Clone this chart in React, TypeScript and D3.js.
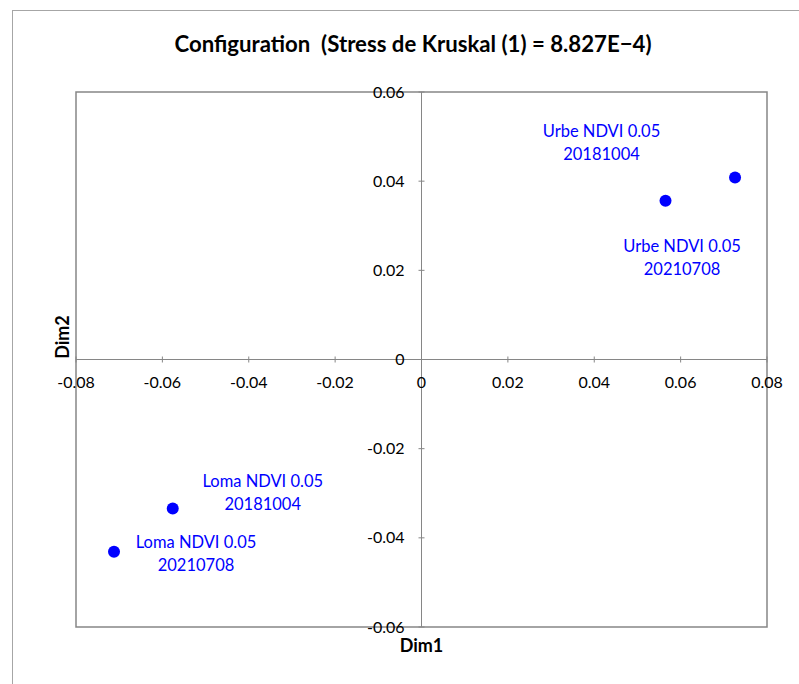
import React from 'react';
import * as d3 from 'd3';

// MDS configuration (two dimensions)
const pointNames = ['Urbe NDVI 0.05', 'Urbe NDVI 0.05', 'Loma NDVI 0.05', 'Loma NDVI 0.05'];
const pointDates = ['20181004', '20210708', '20181004', '20210708'];
const dim1 = [0.0565, 0.0726, -0.0576, -0.0712];
const dim2 = [0.0356, 0.0408, -0.0334, -0.0431];

// label placement (pixels from the point: centre x, first baseline y)
const labelDx = [-64, -53, 90, 82];
const labelDy = [-64, 74, -21, -4];

const xTicks = [-0.08, -0.06, -0.04, -0.02, 0, 0.02, 0.04, 0.06, 0.08];
const yTicks = [-0.06, -0.04, -0.02, 0, 0.02, 0.04, 0.06];

const title = 'Configuration  (Stress de Kruskal (1) = 8.827E\u22124)';

const App = () => {
  const ref = React.useRef<SVGSVGElement>(null);

  React.useEffect(() => {
    const svg = d3.select(ref.current);
    svg.selectAll('*').remove();

    const width = 799;
    const height = 684;
    const plot = { left: 76, top: 92, right: 767, bottom: 627 };
    const font = 'Lato, "Open Sans", sans-serif';
    const blue = '#0000ff';
    const grey = '#868686';

    const x = d3.scaleLinear().domain([-0.08, 0.08]).range([plot.left, plot.right]);
    const y = d3.scaleLinear().domain([-0.06, 0.06]).range([plot.bottom, plot.top]);
    const fmt = (v: number) => (Math.abs(v) < 1e-9 ? '0' : d3.format('.2f')(v).replace('\u2212', '-'));

    svg.append('rect')
      .attr('x', 0).attr('y', 0).attr('width', width).attr('height', height)
      .attr('fill', '#fff');

    // chart area border (runs past the window on the right and bottom)
    svg.append('rect')
      .attr('x', 12.5).attr('y', 10.5).attr('width', 800).attr('height', 700)
      .attr('fill', 'none').attr('stroke', '#a6a6a6').attr('stroke-width', 1);

    svg.append('text')
      .attr('x', 413).attr('y', 52)
      .attr('text-anchor', 'middle')
      .style('white-space', 'pre')
      .attr('font-family', font).attr('font-weight', 'bold').attr('font-size', 22.2)
      .text(title);

    // plot area border
    svg.append('rect')
      .attr('x', plot.left).attr('y', plot.top)
      .attr('width', plot.right - plot.left).attr('height', plot.bottom - plot.top)
      .attr('fill', 'none').attr('stroke', grey).attr('stroke-width', 1.5);

    const x0 = x(0);
    const y0 = y(0);

    // axes through the origin
    svg.append('line')
      .attr('x1', plot.left).attr('x2', plot.right).attr('y1', y0).attr('y2', y0)
      .attr('stroke', grey).attr('stroke-width', 1);
    svg.append('line')
      .attr('x1', x0).attr('x2', x0).attr('y1', plot.top).attr('y2', plot.bottom)
      .attr('stroke', grey).attr('stroke-width', 1);

    const xt = svg.append('g');
    xt.selectAll('line').data(xTicks).join('line')
      .attr('x1', d => x(d)).attr('x2', d => x(d))
      .attr('y1', y0 - 3).attr('y2', y0 + 3)
      .attr('stroke', grey);
    xt.selectAll('text').data(xTicks).join('text')
      .attr('x', d => x(d)).attr('y', y0 + 28)
      .attr('text-anchor', 'middle')
      .attr('font-family', font).attr('font-size', 16)
      .text(d => fmt(d));

    const yt = svg.append('g');
    yt.selectAll('line').data(yTicks).join('line')
      .attr('x1', x0 - 3).attr('x2', x0 + 3)
      .attr('y1', d => y(d)).attr('y2', d => y(d))
      .attr('stroke', grey);
    yt.selectAll('text').data(yTicks).join('text')
      .attr('x', x0 - 17).attr('y', d => y(d))
      .attr('dy', '0.35em')
      .attr('text-anchor', 'end')
      .attr('font-family', font).attr('font-size', 16)
      .text(d => fmt(d));

    svg.append('text')
      .attr('x', x0).attr('y', 652)
      .attr('text-anchor', 'middle')
      .attr('font-family', font).attr('font-weight', 'bold').attr('font-size', 18)
      .text('Dim1');

    svg.append('text')
      .attr('transform', `translate(69, 337) rotate(-90)`)
      .attr('text-anchor', 'middle')
      .attr('font-family', font).attr('font-weight', 'bold').attr('font-size', 18)
      .text('Dim2');

    const idx = d3.range(dim1.length);

    svg.append('g').selectAll('circle').data(idx).join('circle')
      .attr('cx', i => x(dim1[i])).attr('cy', i => y(dim2[i]))
      .attr('r', 6).attr('fill', blue);

    const labels = svg.append('g').selectAll('text').data(idx).join('text')
      .attr('text-anchor', 'middle')
      .attr('font-family', font).attr('font-size', 16.5)
      .attr('fill', blue);
    labels.append('tspan')
      .attr('x', i => x(dim1[i]) + labelDx[i]).attr('y', i => y(dim2[i]) + labelDy[i])
      .text(i => pointNames[i]);
    labels.append('tspan')
      .attr('x', i => x(dim1[i]) + labelDx[i]).attr('y', i => y(dim2[i]) + labelDy[i] + 23)
      .text(i => pointDates[i]);
  }, []);

  return (
    <svg
      ref={ref}
      width="799"
      height="684"
      style={{ position: 'absolute', left: 0, top: 0, display: 'block' }}
    ></svg>
  );
};

export default App;
